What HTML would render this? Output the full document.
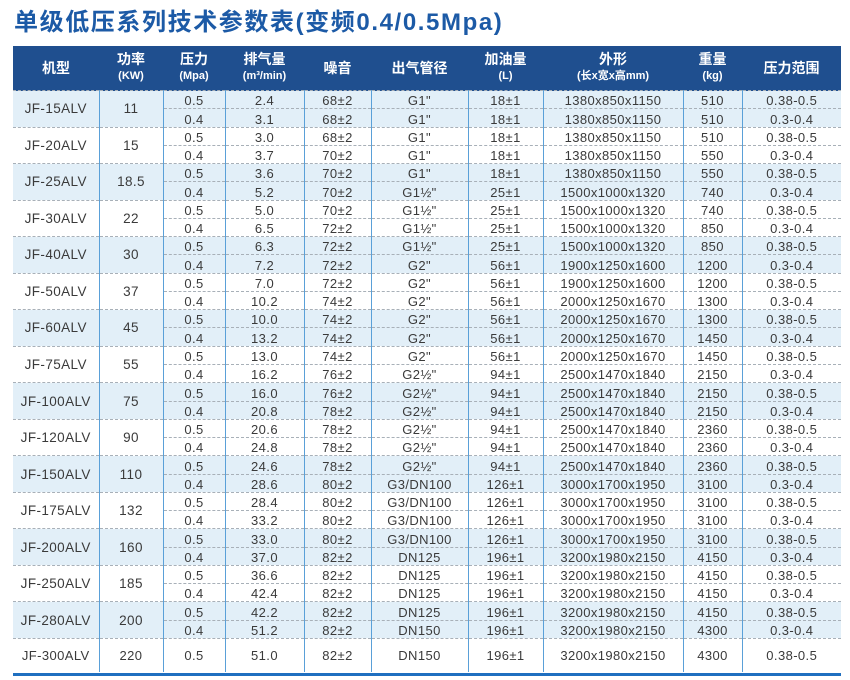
<!DOCTYPE html>
<html><head><meta charset="utf-8"><style>
body{margin:0;width:850px;height:680px;background:#fff;position:relative;overflow:hidden;font-family:"Liberation Sans","Noto Sans CJK SC",sans-serif;}
h1{position:absolute;left:14px;top:2px;margin:0;font-size:24px;color:#1c5aa6;font-weight:bold;letter-spacing:1.6px;}
table{position:absolute;left:13px;top:46px;border-collapse:collapse;table-layout:fixed;width:828px;}
th{background:#1f4f8f;color:#fff;font-weight:bold;font-size:14px;height:44px;padding:0;line-height:15px;border-left:1px solid #5a8cc8;vertical-align:middle;}
th small{font-size:11px;font-weight:bold;}
td{height:17.27px;padding:0;text-align:center;font-size:13px;letter-spacing:0.4px;color:#3a3a3a;line-height:15px;border-left:1px solid #5aa0d8;border-right:1px solid #5aa0d8;border-top:1px dashed #a8b0b8;white-space:nowrap;vertical-align:bottom;}
tr.s td{background:#e2eff8;}
td.m{vertical-align:middle;font-size:13.5px;}
tr:first-child th{border-left:none;}
td.a{border-left:none;}
td.z{border-right:none;}
tr.last td{height:33px;vertical-align:middle;}
.bot{position:absolute;left:13px;top:673px;width:828px;height:3px;background:#1f6fc0;}
</style></head><body>
<h1>单级低压系列技术参数表(变频0.4/0.5Mpa)</h1>
<table>
<colgroup><col style="width:86px"><col style="width:64px"><col style="width:62px"><col style="width:79px"><col style="width:67px"><col style="width:97px"><col style="width:75px"><col style="width:140px"><col style="width:59px"><col style="width:99px"></colgroup>
<tr><th>机型</th><th>功率<br><small>(KW)</small></th><th>压力<br><small>(Mpa)</small></th><th>排气量<br><small>(m³/min)</small></th><th>噪音</th><th>出气管径</th><th>加油量<br><small>(L)</small></th><th>外形<br><small>(长x宽x高mm)</small></th><th>重量<br><small>(kg)</small></th><th>压力范围</th></tr>
<tr class="s"><td class="m a" rowspan="2">JF-15ALV</td><td class="m" rowspan="2">11</td><td>0.5</td><td>2.4</td><td>68±2</td><td>G1"</td><td>18±1</td><td>1380x850x1150</td><td>510</td><td class="z">0.38-0.5</td></tr>
<tr class="s"><td>0.4</td><td>3.1</td><td>68±2</td><td>G1"</td><td>18±1</td><td>1380x850x1150</td><td>510</td><td class="z">0.3-0.4</td></tr>
<tr><td class="m a" rowspan="2">JF-20ALV</td><td class="m" rowspan="2">15</td><td>0.5</td><td>3.0</td><td>68±2</td><td>G1"</td><td>18±1</td><td>1380x850x1150</td><td>510</td><td class="z">0.38-0.5</td></tr>
<tr><td>0.4</td><td>3.7</td><td>70±2</td><td>G1"</td><td>18±1</td><td>1380x850x1150</td><td>550</td><td class="z">0.3-0.4</td></tr>
<tr class="s"><td class="m a" rowspan="2">JF-25ALV</td><td class="m" rowspan="2">18.5</td><td>0.5</td><td>3.6</td><td>70±2</td><td>G1"</td><td>18±1</td><td>1380x850x1150</td><td>550</td><td class="z">0.38-0.5</td></tr>
<tr class="s"><td>0.4</td><td>5.2</td><td>70±2</td><td>G1½"</td><td>25±1</td><td>1500x1000x1320</td><td>740</td><td class="z">0.3-0.4</td></tr>
<tr><td class="m a" rowspan="2">JF-30ALV</td><td class="m" rowspan="2">22</td><td>0.5</td><td>5.0</td><td>70±2</td><td>G1½"</td><td>25±1</td><td>1500x1000x1320</td><td>740</td><td class="z">0.38-0.5</td></tr>
<tr><td>0.4</td><td>6.5</td><td>72±2</td><td>G1½"</td><td>25±1</td><td>1500x1000x1320</td><td>850</td><td class="z">0.3-0.4</td></tr>
<tr class="s"><td class="m a" rowspan="2">JF-40ALV</td><td class="m" rowspan="2">30</td><td>0.5</td><td>6.3</td><td>72±2</td><td>G1½"</td><td>25±1</td><td>1500x1000x1320</td><td>850</td><td class="z">0.38-0.5</td></tr>
<tr class="s"><td>0.4</td><td>7.2</td><td>72±2</td><td>G2"</td><td>56±1</td><td>1900x1250x1600</td><td>1200</td><td class="z">0.3-0.4</td></tr>
<tr><td class="m a" rowspan="2">JF-50ALV</td><td class="m" rowspan="2">37</td><td>0.5</td><td>7.0</td><td>72±2</td><td>G2"</td><td>56±1</td><td>1900x1250x1600</td><td>1200</td><td class="z">0.38-0.5</td></tr>
<tr><td>0.4</td><td>10.2</td><td>74±2</td><td>G2"</td><td>56±1</td><td>2000x1250x1670</td><td>1300</td><td class="z">0.3-0.4</td></tr>
<tr class="s"><td class="m a" rowspan="2">JF-60ALV</td><td class="m" rowspan="2">45</td><td>0.5</td><td>10.0</td><td>74±2</td><td>G2"</td><td>56±1</td><td>2000x1250x1670</td><td>1300</td><td class="z">0.38-0.5</td></tr>
<tr class="s"><td>0.4</td><td>13.2</td><td>74±2</td><td>G2"</td><td>56±1</td><td>2000x1250x1670</td><td>1450</td><td class="z">0.3-0.4</td></tr>
<tr><td class="m a" rowspan="2">JF-75ALV</td><td class="m" rowspan="2">55</td><td>0.5</td><td>13.0</td><td>74±2</td><td>G2"</td><td>56±1</td><td>2000x1250x1670</td><td>1450</td><td class="z">0.38-0.5</td></tr>
<tr><td>0.4</td><td>16.2</td><td>76±2</td><td>G2½"</td><td>94±1</td><td>2500x1470x1840</td><td>2150</td><td class="z">0.3-0.4</td></tr>
<tr class="s"><td class="m a" rowspan="2">JF-100ALV</td><td class="m" rowspan="2">75</td><td>0.5</td><td>16.0</td><td>76±2</td><td>G2½"</td><td>94±1</td><td>2500x1470x1840</td><td>2150</td><td class="z">0.38-0.5</td></tr>
<tr class="s"><td>0.4</td><td>20.8</td><td>78±2</td><td>G2½"</td><td>94±1</td><td>2500x1470x1840</td><td>2150</td><td class="z">0.3-0.4</td></tr>
<tr><td class="m a" rowspan="2">JF-120ALV</td><td class="m" rowspan="2">90</td><td>0.5</td><td>20.6</td><td>78±2</td><td>G2½"</td><td>94±1</td><td>2500x1470x1840</td><td>2360</td><td class="z">0.38-0.5</td></tr>
<tr><td>0.4</td><td>24.8</td><td>78±2</td><td>G2½"</td><td>94±1</td><td>2500x1470x1840</td><td>2360</td><td class="z">0.3-0.4</td></tr>
<tr class="s"><td class="m a" rowspan="2">JF-150ALV</td><td class="m" rowspan="2">110</td><td>0.5</td><td>24.6</td><td>78±2</td><td>G2½"</td><td>94±1</td><td>2500x1470x1840</td><td>2360</td><td class="z">0.38-0.5</td></tr>
<tr class="s"><td>0.4</td><td>28.6</td><td>80±2</td><td>G3/DN100</td><td>126±1</td><td>3000x1700x1950</td><td>3100</td><td class="z">0.3-0.4</td></tr>
<tr><td class="m a" rowspan="2">JF-175ALV</td><td class="m" rowspan="2">132</td><td>0.5</td><td>28.4</td><td>80±2</td><td>G3/DN100</td><td>126±1</td><td>3000x1700x1950</td><td>3100</td><td class="z">0.38-0.5</td></tr>
<tr><td>0.4</td><td>33.2</td><td>80±2</td><td>G3/DN100</td><td>126±1</td><td>3000x1700x1950</td><td>3100</td><td class="z">0.3-0.4</td></tr>
<tr class="s"><td class="m a" rowspan="2">JF-200ALV</td><td class="m" rowspan="2">160</td><td>0.5</td><td>33.0</td><td>80±2</td><td>G3/DN100</td><td>126±1</td><td>3000x1700x1950</td><td>3100</td><td class="z">0.38-0.5</td></tr>
<tr class="s"><td>0.4</td><td>37.0</td><td>82±2</td><td>DN125</td><td>196±1</td><td>3200x1980x2150</td><td>4150</td><td class="z">0.3-0.4</td></tr>
<tr><td class="m a" rowspan="2">JF-250ALV</td><td class="m" rowspan="2">185</td><td>0.5</td><td>36.6</td><td>82±2</td><td>DN125</td><td>196±1</td><td>3200x1980x2150</td><td>4150</td><td class="z">0.38-0.5</td></tr>
<tr><td>0.4</td><td>42.4</td><td>82±2</td><td>DN125</td><td>196±1</td><td>3200x1980x2150</td><td>4150</td><td class="z">0.3-0.4</td></tr>
<tr class="s"><td class="m a" rowspan="2">JF-280ALV</td><td class="m" rowspan="2">200</td><td>0.5</td><td>42.2</td><td>82±2</td><td>DN125</td><td>196±1</td><td>3200x1980x2150</td><td>4150</td><td class="z">0.38-0.5</td></tr>
<tr class="s"><td>0.4</td><td>51.2</td><td>82±2</td><td>DN150</td><td>196±1</td><td>3200x1980x2150</td><td>4300</td><td class="z">0.3-0.4</td></tr>
<tr class="last"><td class="a">JF-300ALV</td><td>220</td><td>0.5</td><td>51.0</td><td>82±2</td><td>DN150</td><td>196±1</td><td>3200x1980x2150</td><td>4300</td><td class="z">0.38-0.5</td></tr>
</table>
<div class="bot"></div>
</body></html>
